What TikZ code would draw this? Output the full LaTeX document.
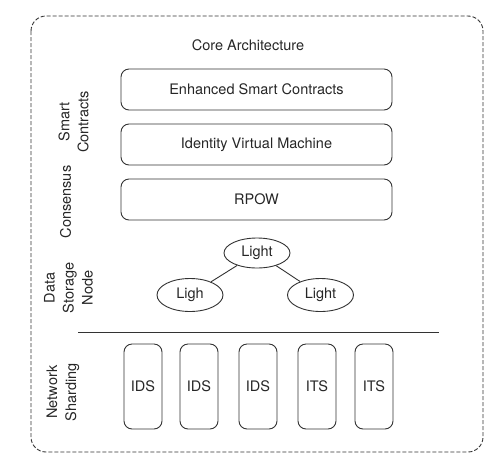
\documentclass[tikz,border=0pt]{standalone}
\usepackage{fontspec}
\setmainfont{TeX Gyre Heros}
\usetikzlibrary{shapes.geometric}
\begin{document}
\begin{tikzpicture}[x=1pt,y=-1pt,
  layerbox/.style={draw=black!80, line width=0.9pt, rounded corners=8, minimum width=271, minimum height=41, inner sep=0},
  shardbox/.style={draw=black!80, line width=0.9pt, rounded corners=8, minimum width=38, minimum height=85, inner sep=0},
  lightnode/.style={draw=black!80, line width=0.9pt, ellipse, minimum width=66, minimum height=33, inner sep=0},
  sidelabel/.style={rotate=90, align=center},
  every node/.style={font=\fontsize{14.5}{19}\selectfont, text=black!85}]
\useasboundingbox (0,0) rectangle (504,467);

\draw[black!80, line width=0.9pt, dash pattern=on 4pt off 2pt, rounded corners=15] (31,16) rectangle (483,452);

\node (title) at (248,45) {Core Architecture};

\node[layerbox] (contracts) at (256.5,89.5) {Enhanced Smart Contracts};
\node[layerbox] (ivm) at (256.5,144.5) {Identity Virtual Machine};
\node[layerbox] (rpow) at (256.5,199.5) {RPOW};

\node[lightnode, minimum height=30] (lighttop) at (257,253) {Light};
\node[lightnode] (lightleft) at (190,295) {Ligh};
\node[lightnode] (lightright) at (320.5,295) {Light};
\draw[black!80, line width=0.9pt] (lighttop) -- (lightleft);
\draw[black!80, line width=0.9pt] (lighttop) -- (lightright);

\draw[black!80, line width=0.9pt] (78,332) -- (439,332);

\foreach \name/\x/\txt in {shardA/143/IDS, shardB/199/IDS, shardC/258/IDS, shardD/317/ITS, shardE/374/ITS}
  \node[shardbox] (\name) at (\x,386.5) {\txt};

\node[sidelabel] (smartlabel) at (73.5,122) {Smart\\Contracts};
\node[sidelabel] (consensuslabel) at (65.5,202) {Consensus};
\node[sidelabel] (storagelabel) at (68.5,288) {Data\\Storage\\Node};
\node[sidelabel] (shardlabel) at (63,392) {Network\\Sharding};
\end{tikzpicture}
\end{document}
